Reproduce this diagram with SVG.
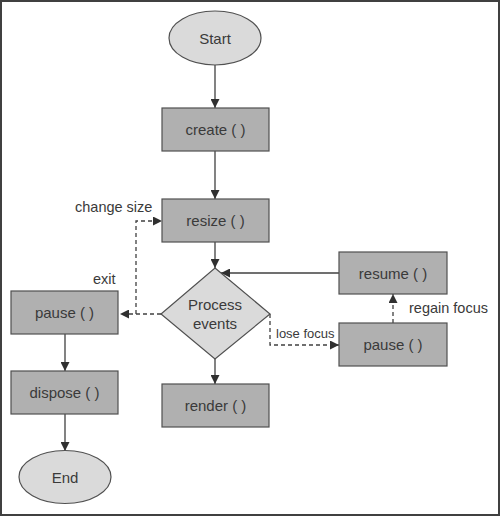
<svg xmlns="http://www.w3.org/2000/svg" width="500" height="516" viewBox="0 0 500 516">
<style>
.box{fill:#b0b0b0;stroke:#505050;stroke-width:1.2}
.oval{fill:#dadada;stroke:#505050;stroke-width:1.2}
.t{font-family:"Liberation Sans",Arial,sans-serif;font-size:15px;fill:#3a3a3a;text-anchor:middle;dominant-baseline:central}
.lbl{font-family:"Liberation Sans",Arial,sans-serif;font-size:14.5px;fill:#3a3a3a;dominant-baseline:central}
.c{fill:none;stroke:#404040;stroke-width:1.3}
.d{fill:none;stroke:#404040;stroke-width:1.3;stroke-dasharray:4 3}
</style>
<defs>
<marker id="ah" markerWidth="9" markerHeight="9" refX="9" refY="4.5" orient="auto" markerUnits="userSpaceOnUse">
<path d="M0,0 L9,4.5 L0,9 Z" fill="#303030"/>
</marker>
</defs>
<rect x="1" y="1" width="498" height="514" fill="#ffffff" stroke="#404040" stroke-width="2"/>
<g id="connectors">
<line class="c" x1="215" y1="65" x2="215" y2="108" marker-end="url(#ah)"/>
<line class="c" x1="215" y1="151" x2="215" y2="199" marker-end="url(#ah)"/>
<line class="c" x1="215" y1="242" x2="215" y2="268" marker-end="url(#ah)"/>
<line class="c" x1="215" y1="359" x2="215" y2="384" marker-end="url(#ah)"/>
<line class="c" x1="339" y1="273" x2="221" y2="273" marker-end="url(#ah)"/>
<line class="c" x1="65" y1="334" x2="65" y2="371" marker-end="url(#ah)"/>
<line class="c" x1="65" y1="414" x2="65" y2="451" marker-end="url(#ah)"/>
<line class="d" x1="161" y1="314" x2="120" y2="314" marker-end="url(#ah)"/>
<polyline class="d" points="136,314 136,221 162,221" marker-end="url(#ah)"/>
<polyline class="d" points="270,314 270,345 339,345" marker-end="url(#ah)"/>
<line class="d" x1="393" y1="323" x2="393" y2="294" marker-end="url(#ah)"/>
</g>
<g id="start"><ellipse class="oval" cx="215" cy="38" rx="46" ry="27"/><text class="t" x="215" y="38">Start</text></g>
<g id="create"><rect class="box" x="162" y="108" width="107" height="43"/><text class="t" x="215.5" y="129.5">create ( )</text></g>
<g id="resize"><rect class="box" x="162" y="199" width="107" height="43"/><text class="t" x="215.5" y="220.5">resize ( )</text></g>
<g id="process"><polygon points="215,268 270,314 215,359 161,314" fill="#dadada" stroke="#505050" stroke-width="1.2"/><text class="t" x="215" y="304">Process</text><text class="t" x="215" y="323">events</text></g>
<g id="render"><rect class="box" x="162" y="384" width="107" height="43"/><text class="t" x="215.5" y="405.5">render ( )</text></g>
<g id="resume"><rect class="box" x="339" y="252" width="108" height="42"/><text class="t" x="393" y="273">resume ( )</text></g>
<g id="pause2"><rect class="box" x="339" y="323" width="108" height="43"/><text class="t" x="393" y="344.5">pause ( )</text></g>
<g id="pause1"><rect class="box" x="11" y="291" width="107" height="43"/><text class="t" x="64.5" y="312.5">pause ( )</text></g>
<g id="dispose"><rect class="box" x="11" y="371" width="107" height="43"/><text class="t" x="64.5" y="392.5">dispose ( )</text></g>
<g id="end"><ellipse class="oval" cx="65" cy="477" rx="46" ry="26.5"/><text class="t" x="65" y="477">End</text></g>
<g id="labels">
<text class="lbl" x="75" y="207">change size</text>
<text class="lbl" x="93" y="279">exit</text>
<text class="lbl" x="409" y="308">regain focus</text>
<text class="lbl" x="276" y="333" style="font-size:13px">lose focus</text>
</g>
</svg>
